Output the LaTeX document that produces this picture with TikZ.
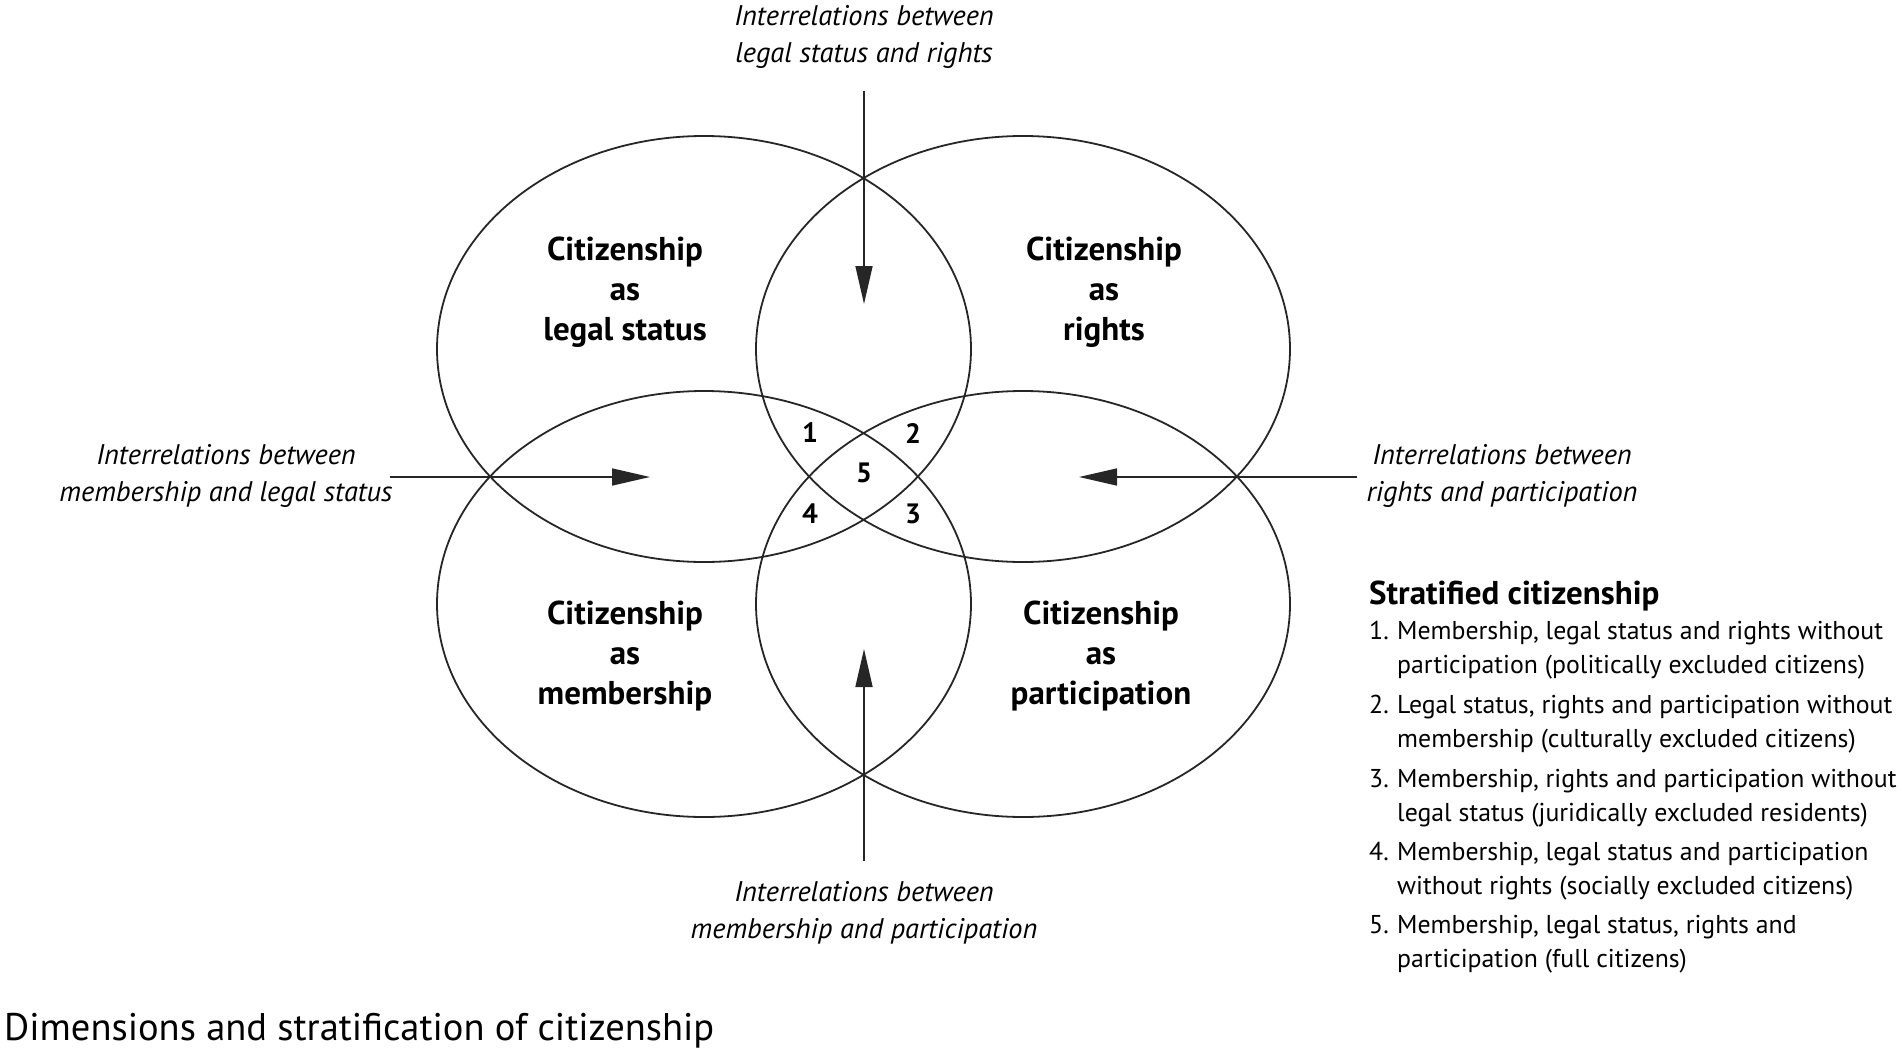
\documentclass[tikz,border=0pt]{standalone}
\usepackage{fontspec}
\setmainfont{PT Sans}
\usetikzlibrary{arrows.meta}
\tikzset{
  ring/.style={draw=black!85, line width=1.8pt},
  pointer/.style={draw=black!85, line width=1.6pt, -{Triangle[length=38pt,width=17pt]}},
  relation/.style={align=center, inner sep=0pt, font=\fontsize{28.4}{37}\selectfont\itshape},
  dimension/.style={align=center, inner sep=0pt, font=\fontsize{33}{40}\selectfont\bfseries},
  region/.style={inner sep=0pt, font=\fontsize{28}{30}\selectfont\bfseries},
  legendtext/.style={anchor=base west, inner sep=0pt, align=left, font=\fontsize{25.8}{34}\selectfont},
}
\begin{document}
\begin{tikzpicture}[x=1pt,y=-1pt]
\useasboundingbox (0,0) rectangle (1902,1054);
% ellipses
\coordinate (cTL) at (704,349);
\coordinate (cTR) at (1023,349);
\coordinate (cBL) at (704,604);
\coordinate (cBR) at (1023,604);
\foreach \c in {cTL,cTR,cBL,cBR}
  \draw[ring] (\c) ellipse [x radius=267pt, y radius=213pt];
% arrows
\coordinate (topS) at (864,91);
\coordinate (topT) at (864,304);
\coordinate (botS) at (864,861);
\coordinate (botT) at (864,649);
\coordinate (lefS) at (390,477);
\coordinate (lefT) at (650,477);
\coordinate (rigS) at (1357,477);
\coordinate (rigT) at (1079,477);
\draw[pointer] (topS) -- (topT);
\draw[pointer] (botS) -- (botT);
\draw[pointer] (lefS) -- (lefT);
\draw[pointer] (rigS) -- (rigT);
% relation labels
\node[relation] (lTop) at (864,37) {Interrelations between\\legal status and rights};
\node[relation] (lBot) at (864,913) {Interrelations between\\membership and participation};
\node[relation] (lLeft) at (226,476) {Interrelations between\\membership and legal status};
\node[relation] (lRight) at (1502,476) {Interrelations between\\rights and participation};
% dimension labels
\node[dimension] (dTL) at (625,292) {Citizenship\\as\\legal status};
\node[dimension] (dTR) at (1104,292) {Citizenship\\as\\rights};
\node[dimension] (dBL) at (625,656) {Citizenship\\as\\membership};
\node[dimension] (dBR) at (1101,656) {Citizenship\\as\\participation};
% region numbers
\node[region] (n1) at (810,433) {1};
\node[region] (n2) at (913,433) {2};
\node[region] (n5) at (864,473) {5};
\node[region] (n4) at (810,514) {4};
\node[region] (n3) at (913,514) {3};
% legend
\node[anchor=base west, inner sep=0pt, font=\fontsize{33}{34}\selectfont\bfseries] (lt) at (1369,604) {Stratified citizenship};
\node[legendtext] (k1) at (1369,639) {1.};
\node[legendtext] (t1) at (1397,673) {Membership, legal status and rights without\\participation (politically excluded citizens)};
\node[legendtext] (k2) at (1369,713) {2.};
\node[legendtext] (t2) at (1397,747) {Legal status, rights and participation without\\membership (culturally excluded citizens)};
\node[legendtext] (k3) at (1369,787) {3.};
\node[legendtext] (t3) at (1397,821) {Membership, rights and participation without\\legal status (juridically excluded residents)};
\node[legendtext] (k4) at (1369,860) {4.};
\node[legendtext] (t4) at (1397,894) {Membership, legal status and participation\\without rights (socially excluded citizens)};
\node[legendtext] (k5) at (1369,933) {5.};
\node[legendtext] (t5) at (1397,967) {Membership, legal status, rights and\\participation (full citizens)};
% caption
\node[anchor=base west, inner sep=0pt, font=\fontsize{38.5}{40}\selectfont] (cap) at (4,1040) {Dimensions and stratification of citizenship};
\end{tikzpicture}
\end{document}
